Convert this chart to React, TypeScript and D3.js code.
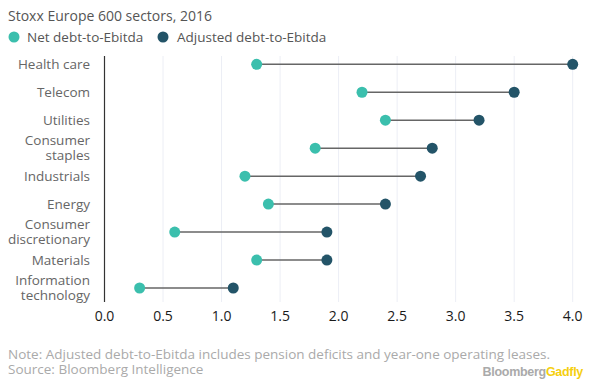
import * as d3 from 'd3';
import React from 'react';

const categories = [
  ['Health care'],
  ['Telecom'],
  ['Utilities'],
  ['Consumer', 'staples'],
  ['Industrials'],
  ['Energy'],
  ['Consumer', 'discretionary'],
  ['Materials'],
  ['Information', 'technology'],
];
const netDebt = [1.3, 2.2, 2.4, 1.8, 1.2, 1.4, 0.6, 1.3, 0.3];
const adjustedDebt = [4.0, 3.5, 3.2, 2.8, 2.7, 2.4, 1.9, 1.9, 1.1];
const xTicks = [0, 0.5, 1, 1.5, 2, 2.5, 3, 3.5, 4];

const WIDTH = 594;
const HEIGHT = 387;
const FONT = "'Open Sans', sans-serif";
const TEAL = '#3bbfad';
const NAVY = '#235468';

const App: React.FC = () => {
  const x = d3.scaleLinear().domain([0, 4]).range([104.5, 572.7]);
  const y = d3.scalePoint<number>()
    .domain(d3.range(categories.length))
    .range([64.3, 288]);

  return (
    <svg width={WIDTH} height={HEIGHT}
      style={{ position: 'absolute', left: 0, top: 0, background: '#fff' }}
      fontFamily={FONT}>
      <text x={8} y={20.5} fontSize={14} fill="#555">Stoxx Europe 600 sectors, 2016</text>

      {/* legend */}
      <circle cx={14} cy={37} r={5.5} fill={TEAL} />
      <text x={27} y={41.7} fontSize={13.5} fill="#555">Net debt-to-Ebitda</text>
      <circle cx={163} cy={37} r={5.5} fill={NAVY} />
      <text x={177} y={41.7} fontSize={13.5} fill="#555">Adjusted debt-to-Ebitda</text>

      {/* gridlines */}
      {xTicks.map(t => (
        <line key={t} x1={x(t)} x2={x(t)} y1={56} y2={302} stroke="#eceef5" strokeWidth={1} />
      ))}
      <line x1={x(0)} x2={x(0)} y1={56} y2={302} stroke="#333" strokeWidth={1.2} />

      {/* tick labels */}
      {xTicks.map(t => (
        <text key={t} x={x(t)} y={320.5} fontSize={14} fill="#1a1a1a" textAnchor="middle">
          {d3.format('.1f')(t)}
        </text>
      ))}

      {/* category labels */}
      {categories.map((lines, i) => {
        const cy = y(i) as number;
        const offs = lines.length === 1 ? [0] : [-7.7, 7.3];
        return lines.map((l, j) => (
          <text key={i + '-' + j} x={90} y={cy + offs[j] + 4.7} fontSize={13.5}
            fill="#666" textAnchor="end">{l}</text>
        ));
      })}

      {/* dumbbells */}
      {categories.map((_, i) => {
        const cy = y(i) as number;
        return (
          <g key={i}>
            <line x1={x(netDebt[i])} x2={x(adjustedDebt[i])} y1={cy} y2={cy}
              stroke="#666" strokeWidth={1.5} />
            <circle cx={x(netDebt[i])} cy={cy} r={5.5} fill={TEAL} />
            <circle cx={x(adjustedDebt[i])} cy={cy} r={5.5} fill={NAVY} />
          </g>
        );
      })}

      {/* footer */}
      <text x={8} y={358.5} fontSize={13.5} fill="#aaa">
        Note: Adjusted debt-to-Ebitda includes pension deficits and year-one operating leases.
      </text>
      <text x={8} y={374} fontSize={13.5} fill="#aaa">Source: Bloomberg Intelligence</text>
      <text x={583} y={376} fontSize={12.5} fontWeight="bold" textAnchor="end"
        fontFamily="'Liberation Sans', Arial, sans-serif" letterSpacing={-0.3}>
        <tspan fill="#aaa">Bloomberg</tspan><tspan fill="#f5cf0f">Gadfly</tspan>
      </text>
    </svg>
  );
};

export default App;
